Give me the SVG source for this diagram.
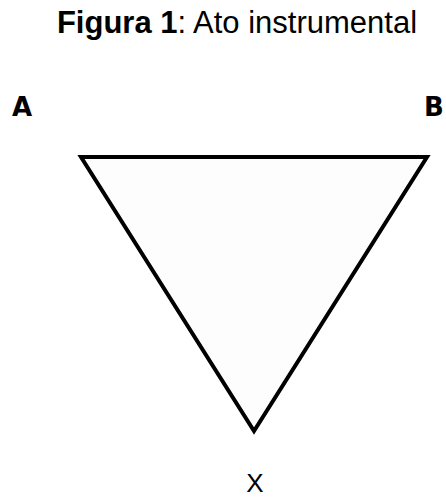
<svg xmlns="http://www.w3.org/2000/svg" width="446" height="499" viewBox="0 0 446 499">
<style>
.lbl{font-family:"Liberation Sans",Arial,sans-serif;fill:#000}
.v{font-family:"DejaVu Sans","Liberation Sans",sans-serif;font-weight:bold;font-size:26px}
</style>
<rect width="446" height="499" fill="#fff"/>
<text class="lbl" x="237" y="33" font-size="31" text-anchor="middle"><tspan font-weight="bold">Figura 1</tspan>: Ato instrumental</text>
<g id="triangle">
<polygon points="81,157 427,157 254,431" fill="#fdfdfd" stroke="#000" stroke-width="4" stroke-linejoin="miter"/>
</g>
<g id="A"><text class="lbl v" x="22" y="116" text-anchor="middle">A</text></g>
<g id="B"><text class="lbl v" x="434" y="116" text-anchor="middle">B</text></g>
<g id="X"><text class="lbl" x="255" y="492" font-size="26" text-anchor="middle">X</text></g>
<g id="connectors"></g>
</svg>
